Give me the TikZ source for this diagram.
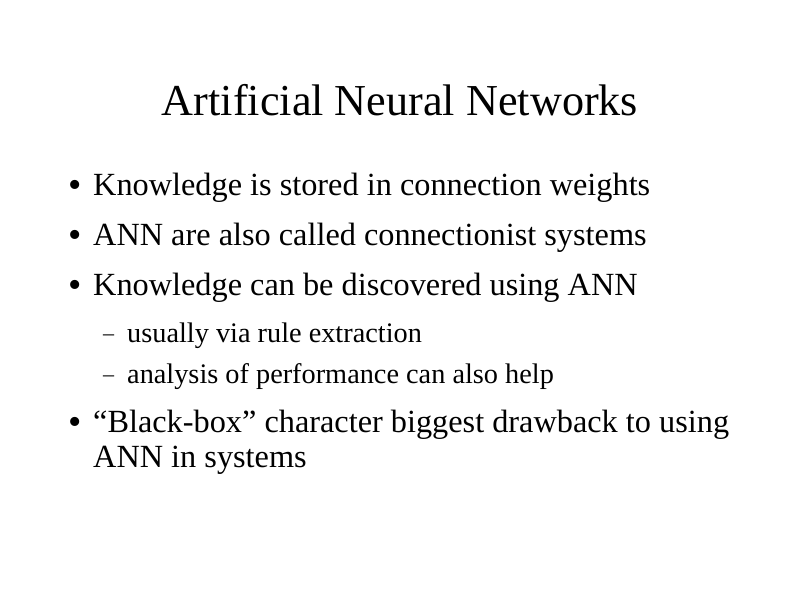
\documentclass[tikz,border=0pt]{standalone}
\usepackage{fontspec}
\setmainfont{Liberation Serif}
\begin{document}
\begin{tikzpicture}[x=1pt,y=-1pt,
  title/.style={anchor=base,inner sep=0pt,font=\fontsize{44.2}{48}\selectfont},
  body/.style={anchor=base west,inner sep=0pt,font=\fontsize{32.3}{36}\selectfont},
  bulletmark/.style={anchor=base west,inner sep=0pt,font=\fontsize{38}{40}\selectfont},
  sub/.style={anchor=base west,inner sep=0pt,font=\fontsize{28.3}{32}\selectfont},
  dashmark/.style={anchor=base west,inner sep=0pt,font=\fontsize{22}{26}\selectfont}]
\useasboundingbox[fill=white] (0,0) rectangle (800,600);
\node[title] (t) at (400,115) {Artificial Neural Networks};
\node[bulletmark] (b1m) at (68,197) {•};
\node[body] (b1) at (93,195) {Knowledge is stored in connection weights};
\node[bulletmark] (b2m) at (68,247) {•};
\node[body] (b2) at (93,245) {ANN are also called connectionist systems};
\node[bulletmark] (b3m) at (68,297) {•};
\node[body] (b3) at (93,295) {Knowledge can be discovered using ANN};
\node[dashmark] (s1m) at (103,340) {–};
\node[sub] (s1) at (127,342) {usually via rule extraction};
\node[dashmark] (s2m) at (103,381) {–};
\node[sub] (s2) at (127,383) {analysis of performance can also help};
\node[bulletmark] (b4m) at (68,434) {•};
\node[body] (b4) at (93,432) {“Black-box” character biggest drawback to using};
\node[body] (b5) at (93,467) {ANN in systems};
\end{tikzpicture}
\end{document}
